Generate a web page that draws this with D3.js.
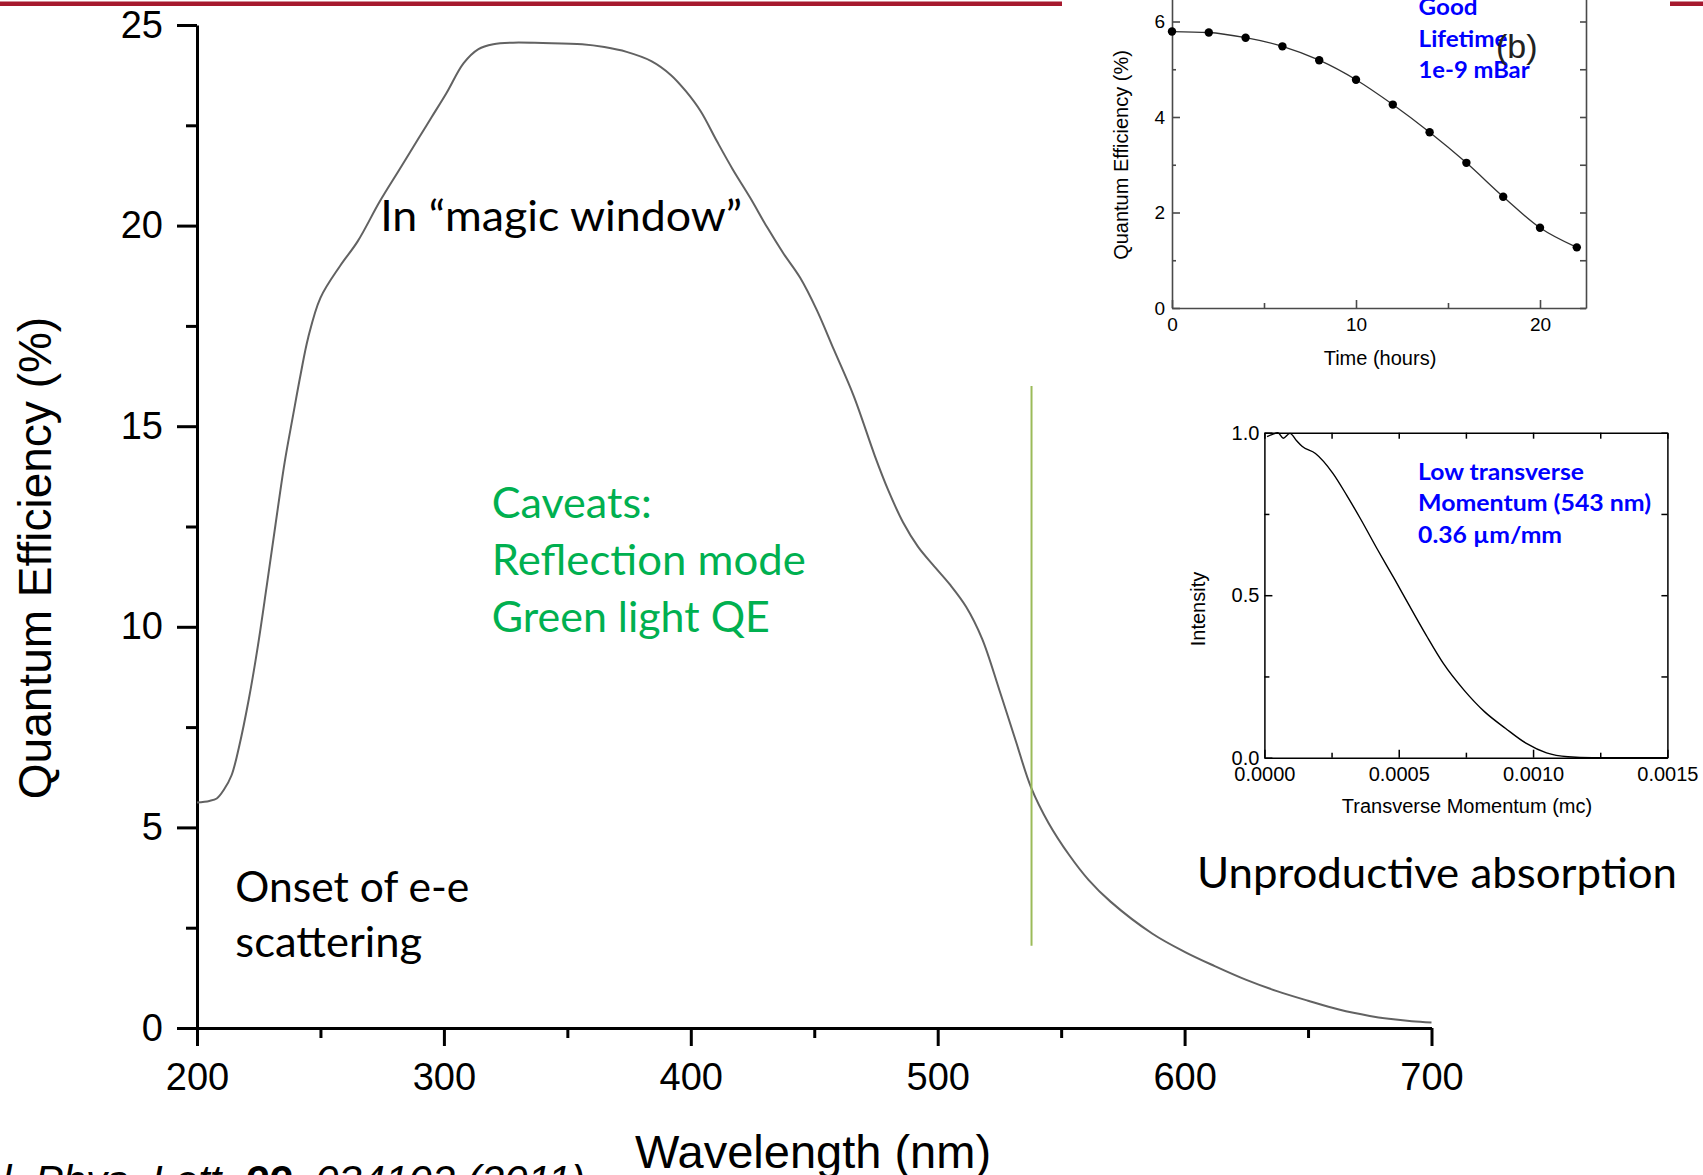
<!DOCTYPE html>
<html><head><meta charset="utf-8">
<script src="https://cdn.jsdelivr.net/npm/d3@7"></script>
<style>
html,body{margin:0;padding:0;background:#fff;overflow:hidden;}
svg{display:block;}
</style></head>
<body>
<svg id="c" width="1703" height="1175"></svg>
<script>
// ---------- Main chart: QE vs wavelength ----------
const wavelength = [200,205,208,211,214,217,221,224.6,228.2,231.8,235.5,239,242,245,250,258,265,274,282,290,295,301,308,314,320,328,340,356,365,374,384,392,398,404,410.6,417,424,431,437.6,444.3,451,458,466,474.6,480,486,492,498,505,511.5,518,525,531.6,537.8,545,553.4,561,570,587,600,612,625,637.4,650,662.5,675,682.7,692,700];
const qeMain = [5.62,5.66,5.72,5.95,6.3,7.0,8.2,9.5,11.0,12.55,14.1,15.3,16.3,17.2,18.2,19.0,19.6,20.6,21.4,22.2,22.7,23.3,24.05,24.4,24.52,24.56,24.55,24.52,24.45,24.33,24.1,23.75,23.35,22.85,22.1,21.4,20.7,19.95,19.3,18.7,17.9,16.9,15.75,14.25,13.4,12.6,12.0,11.55,11.05,10.5,9.7,8.42,7.16,6.0,5.1,4.3,3.7,3.15,2.35,1.9,1.55,1.2,0.92,0.68,0.46,0.3,0.23,0.17,0.14];
const mainXTicks = [200,300,400,500,600,700];
const mainXMinor = [250,350,450,550,650];
const mainYTicks = [0,5,10,15,20,25];
const mainYMinor = [2.5,7.5,12.5,17.5,22.5];
const markerWavelength = 538;
const markerQE = [2.05,16.0];

// ---------- Inset (b): QE lifetime ----------
const lifeHours = [0,2,4,6,8,10,12,14,16,18,20,22];
const lifeQE = [5.79,5.77,5.66,5.48,5.19,4.78,4.26,3.68,3.04,2.33,1.68,1.27];
const lifeXTicks = [0,10,20];
const lifeXMinor = [5,15];
const lifeYTicks = [0,2,4,6];
const lifeYMinor = [1,3,5];

// ---------- Inset: transverse momentum ----------
const momentum = [0.00001,0.00003,0.00005,0.00007,0.000095,0.00012,0.00014,0.00019,0.000255,0.000306,0.000357,0.000422,0.000486,0.000538,0.000602,0.000666,0.000743,0.00082,0.000898,0.000975,0.00105,0.00113,0.00122,0.0014,0.0015];
const intensity = [0.988,0.995,1.0,0.983,0.998,0.975,0.958,0.936,0.875,0.808,0.736,0.639,0.547,0.47,0.377,0.29,0.208,0.141,0.09,0.044,0.015,0.003,0.0,0.0,0.0];
const momXTicks = [0,0.0005,0.001,0.0015];
const momXMinor = [0.00025,0.00075,0.00125];
const momYTicks = [0,0.5,1.0];
const momYMinor = [0.25,0.75];

// ---------- Text ----------
const magicLabel = "In \u201cmagic window\u201d";
const caveatLines = ["Caveats:","Reflection mode","Green light QE"];
const onsetLines = ["Onset of e-e","scattering"];
const unproductiveLabel = "Unproductive absorption";
const lifetimeNote = ["Good","Lifetime","1e-9 mBar"];
const momentumNote = ["Low transverse","Momentum (543 nm)","0.36 \u00b5m/mm"];

const svg = d3.select('#c');
const ARIAL = "'Liberation Sans', Arial, sans-serif";
const CAL = "Lato, 'Open Sans', sans-serif";

// top red rules
svg.append('rect').attr('x',0).attr('y',1.5).attr('width',1062).attr('height',4.5).attr('fill','#A6192E');
svg.append('rect').attr('x',1670).attr('y',1.5).attr('width',33).attr('height',4.5).attr('fill','#A6192E');

// ===== Main =====
const x = d3.scaleLinear().domain([200,700]).range([197,1431.5]);
const y = d3.scaleLinear().domain([0,25]).range([1028,25]);

const main = svg.append('g');
function styleAxis(g, fs, sw, col){
  g.selectAll('path.domain').attr('stroke',col).attr('stroke-width',sw);
  g.selectAll('.tick line').attr('stroke',col).attr('stroke-width',sw);
  g.selectAll('.tick text').attr('font-family',ARIAL).attr('font-size',fs).attr('fill','#000');
}
const gyMain = main.append('g').attr('transform',`translate(${x(200)},0)`)
  .call(d3.axisLeft(y).tickValues(mainYTicks).tickSize(20).tickPadding(14).tickSizeOuter(0).tickFormat(d3.format('d')));
styleAxis(gyMain,38,3,'#000');
const gyMainMinor = main.append('g').attr('transform',`translate(${x(200)},0)`)
  .call(d3.axisLeft(y).tickValues(mainYMinor).tickSize(11).tickFormat(''));
gyMainMinor.select('path.domain').remove();
styleAxis(gyMainMinor,38,3,'#000');

const gxMain = main.append('g').attr('transform',`translate(0,${y(0)})`)
  .call(d3.axisBottom(x).tickValues(mainXTicks).tickSize(18).tickPadding(17).tickSizeOuter(0).tickFormat(d3.format('d')));
styleAxis(gxMain,38,3,'#000');
const gxMainMinor = main.append('g').attr('transform',`translate(0,${y(0)})`)
  .call(d3.axisBottom(x).tickValues(mainXMinor).tickSize(10).tickFormat(''));
gxMainMinor.select('path.domain').remove();
styleAxis(gxMainMinor,38,3,'#000');

main.append('text').attr('x',813).attr('y',1168).attr('text-anchor','middle')
  .attr('font-family',ARIAL).attr('font-size',47).text('Wavelength (nm)');
main.append('text').attr('transform','translate(51,558) rotate(-90)').attr('text-anchor','middle')
  .attr('font-family',ARIAL).attr('font-size',46).text('Quantum Efficiency (%)');

const mainData = wavelength.map((w,i)=>[w,qeMain[i]]);
main.append('path').datum(mainData)
  .attr('d',d3.line().x(d=>x(d[0])).y(d=>y(d[1])).curve(d3.curveCatmullRom.alpha(0.5)))
  .attr('fill','none').attr('stroke','#626262').attr('stroke-width',2);

main.append('line').attr('x1',x(markerWavelength)).attr('x2',x(markerWavelength))
  .attr('y1',y(markerQE[0])).attr('y2',y(markerQE[1])).attr('stroke','#9BBB59').attr('stroke-width',2);

function textAt(g, str, px, py, opts){
  const t = g.append('text').attr('x',px).attr('y',py)
    .attr('font-family',opts.font||CAL).attr('font-size',opts.size)
    .attr('fill',opts.fill||'#000').attr('font-weight',opts.weight||'normal').text(str);
  if(opts.len){ t.attr('textLength',opts.len).attr('lengthAdjust','spacingAndGlyphs'); }
  return t;
}
textAt(main, magicLabel, x(274.2), y(19.87), {size:42, len:362});
const cavLens = [160,314,278];
const cavY = [12.72,11.30,9.87];
caveatLines.forEach((s,i)=>textAt(main, s, x(319.4), y(cavY[i]), {size:42, fill:'#00B050', len:cavLens[i]}));
const onsetLens = [234,187];
const onsetY = [3.14,1.76];
onsetLines.forEach((s,i)=>textAt(main, s, x(215.5), y(onsetY[i]), {size:42, len:onsetLens[i]}));
textAt(main, unproductiveLabel, x(605.0), y(3.5), {size:42, len:480});

// citation (partly off-canvas)
const cit = svg.append('text').attr('x',585).attr('y',1195).attr('text-anchor','end')
  .attr('font-family',ARIAL).attr('font-size',42).attr('font-style','italic');
cit.append('tspan').text('Appl. Phys. Lett. ');
cit.append('tspan').attr('font-weight','bold').text('99');
cit.append('tspan').text(', 034102 (2011)');

// ===== Inset (b) =====
const lx = d3.scaleLinear().domain([0,22.5]).range([1172,1586]);
const ly = d3.scaleLinear().domain([0,7]).range([308,308-7*47.75]);
const ins1 = svg.append('g');
const frameCol = '#4a4a4a';
const g1l = ins1.append('g').attr('transform',`translate(${lx(0)},0)`)
  .call(d3.axisLeft(ly).tickValues(lifeYTicks).tickSize(-8).tickPadding(7).tickSizeOuter(0).tickFormat(d3.format('d')));
styleAxis(g1l,19,1.6,frameCol);
const g1lm = ins1.append('g').attr('transform',`translate(${lx(0)},0)`)
  .call(d3.axisLeft(ly).tickValues(lifeYMinor).tickSize(-4).tickFormat(''));
g1lm.select('path.domain').remove(); styleAxis(g1lm,19,1.6,frameCol);
const g1r = ins1.append('g').attr('transform',`translate(${lx(22.5)},0)`)
  .call(d3.axisRight(ly).tickValues(lifeYTicks.concat(lifeYMinor)).tickSize(-6).tickSizeOuter(0).tickFormat(''));
styleAxis(g1r,19,1.6,frameCol);
const g1b = ins1.append('g').attr('transform',`translate(0,${ly(0)})`)
  .call(d3.axisBottom(lx).tickValues(lifeXTicks).tickSize(-8).tickPadding(10).tickSizeOuter(0).tickFormat(d3.format('d')));
styleAxis(g1b,19,1.6,frameCol);
const g1bm = ins1.append('g').attr('transform',`translate(0,${ly(0)})`)
  .call(d3.axisBottom(lx).tickValues(lifeXMinor).tickSize(-5).tickFormat(''));
g1bm.select('path.domain').remove(); styleAxis(g1bm,19,1.6,frameCol);

const lifeData = lifeHours.map((h,i)=>[h,lifeQE[i]]);
ins1.append('path').datum(lifeData)
  .attr('d',d3.line().x(d=>lx(d[0])).y(d=>ly(d[1])).curve(d3.curveMonotoneX))
  .attr('fill','none').attr('stroke','#333').attr('stroke-width',1.3);
ins1.selectAll('circle').data(lifeData).join('circle')
  .attr('cx',d=>lx(d[0])).attr('cy',d=>ly(d[1])).attr('r',4.2).attr('fill','#000');

ins1.append('text').attr('x',1380).attr('y',365).attr('text-anchor','middle')
  .attr('font-family',ARIAL).attr('font-size',20).text('Time (hours)');
ins1.append('text').attr('transform','translate(1128,155) rotate(-90)').attr('text-anchor','middle')
  .attr('font-family',ARIAL).attr('font-size',20).text('Quantum Efficiency (%)');

const lifeNoteY = [6.14,5.47,4.81];
const lifeNoteLen = [59,89,111];
lifetimeNote.forEach((s,i)=>textAt(ins1, s, lx(13.4), ly(lifeNoteY[i]), {size:23, weight:'bold', fill:'#0000FF', len:lifeNoteLen[i]}));
ins1.append('text').attr('x',1496).attr('y',58).attr('font-family',ARIAL).attr('font-size',34).attr('fill','#222').text('(b)');

// ===== Inset momentum =====
const mx = d3.scaleLinear().domain([0,0.0015]).range([1264.4,1667.4]);
const my = d3.scaleLinear().domain([0,1]).range([757.7,432.7]);
const ins2 = svg.append('g');
const g2l = ins2.append('g').attr('transform',`translate(${mx(0)},0)`)
  .call(d3.axisLeft(my).tickValues(momYTicks).tickSize(-8).tickPadding(5).tickSizeOuter(0).tickFormat(d3.format('.1f')));
styleAxis(g2l,20,1.5,'#000');
const g2lm = ins2.append('g').attr('transform',`translate(${mx(0)},0)`)
  .call(d3.axisLeft(my).tickValues(momYMinor).tickSize(-5).tickFormat(''));
g2lm.select('path.domain').remove(); styleAxis(g2lm,20,1.5,'#000');
const g2r = ins2.append('g').attr('transform',`translate(${mx(0.0015)},0)`)
  .call(d3.axisRight(my).tickValues(momYTicks.concat(momYMinor)).tickSize(-6).tickSizeOuter(0).tickFormat(''));
styleAxis(g2r,20,1.5,'#000');
const g2b = ins2.append('g').attr('transform',`translate(0,${my(0)})`)
  .call(d3.axisBottom(mx).tickValues(momXTicks).tickSize(-8).tickPadding(9).tickSizeOuter(0).tickFormat(d3.format('.4f')));
styleAxis(g2b,20,1.5,'#000');
const g2bm = ins2.append('g').attr('transform',`translate(0,${my(0)})`)
  .call(d3.axisBottom(mx).tickValues(momXMinor).tickSize(-5).tickFormat(''));
g2bm.select('path.domain').remove(); styleAxis(g2bm,20,1.5,'#000');
const g2t = ins2.append('g').attr('transform',`translate(0,${my(1)})`)
  .call(d3.axisTop(mx).tickValues(momXTicks.concat(momXMinor)).tickSize(-6).tickSizeOuter(0).tickFormat(''));
styleAxis(g2t,20,1.5,'#000');

const momData = momentum.map((p,i)=>[p,intensity[i]]);
ins2.append('path').datum(momData)
  .attr('d',d3.line().x(d=>mx(d[0])).y(d=>my(d[1])).curve(d3.curveMonotoneX))
  .attr('fill','none').attr('stroke','#000').attr('stroke-width',1.4);

ins2.append('text').attr('x',1467).attr('y',813).attr('text-anchor','middle')
  .attr('font-family',ARIAL).attr('font-size',20).text('Transverse Momentum (mc)');
ins2.append('text').attr('transform','translate(1205,609) rotate(-90)').attr('text-anchor','middle')
  .attr('font-family',ARIAL).attr('font-size',20).text('Intensity');

const momNoteY = [0.856,0.758,0.662];
const momNoteLen = [166,233,144];
momentumNote.forEach((s,i)=>textAt(ins2, s, mx(0.000572), my(momNoteY[i]), {size:23, weight:'bold', fill:'#0000FF', len:momNoteLen[i]}));
</script>
</body></html>
